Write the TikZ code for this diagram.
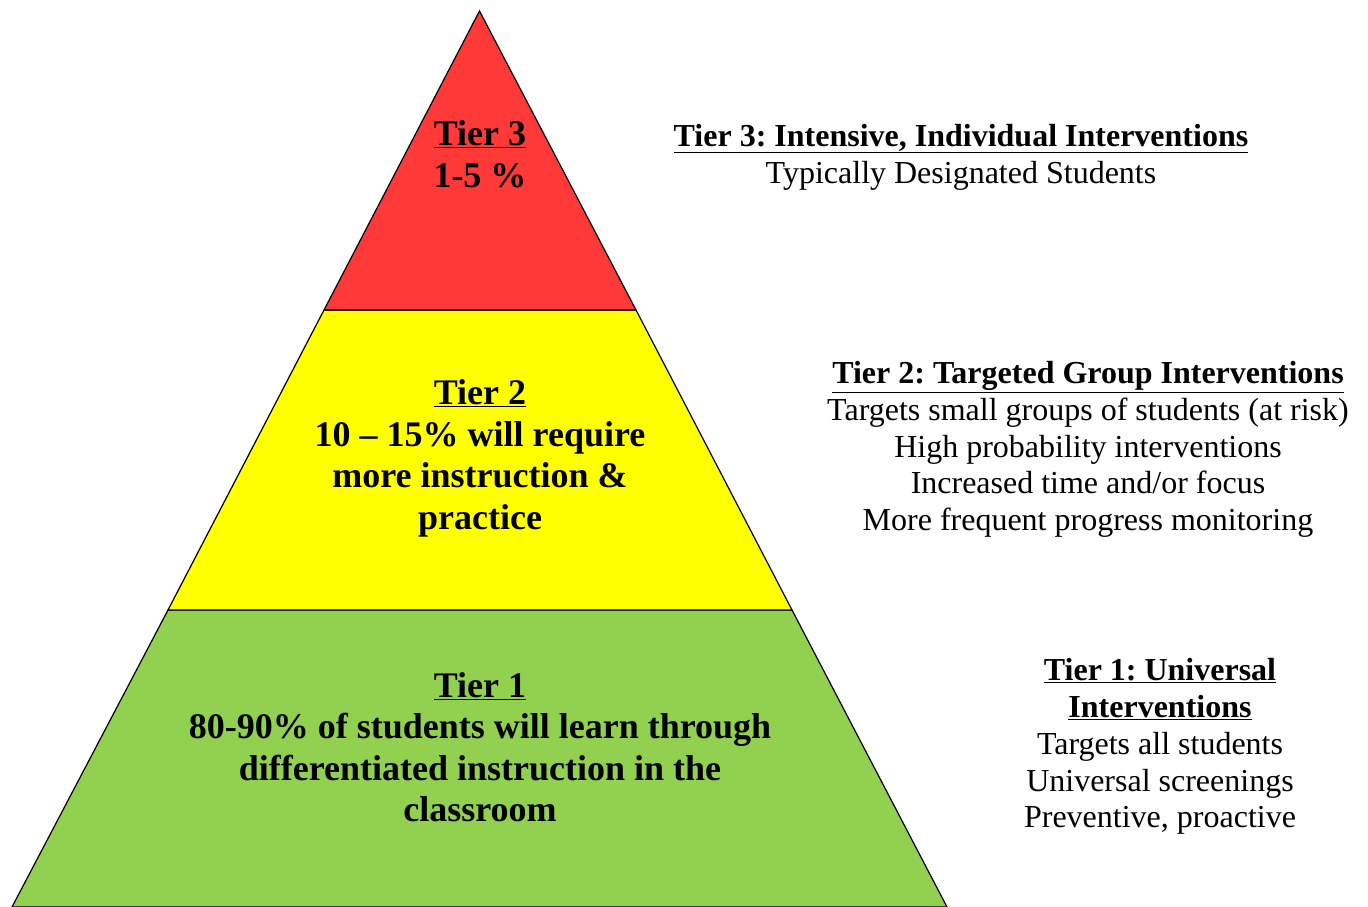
\documentclass[tikz,border=0pt]{standalone}
\usepackage{fontspec}
\setmainfont{Liberation Serif}
\frenchspacing
\definecolor{tierred}{RGB}{255,56,56}
\definecolor{tieryellow}{RGB}{255,255,0}
\definecolor{tiergreen}{RGB}{146,208,80}
\begin{document}
\begin{tikzpicture}[x=1pt,y=-1pt,
  tier/.style={draw=black,line width=1.2pt,line join=miter},
  ptext/.style={align=center,font=\fontsize{36}{41.5}\selectfont\bfseries,inner sep=0pt},
  rtext/.style={align=center,font=\fontsize{32}{36.8}\selectfont,inner sep=0pt}]
\useasboundingbox (0,0) rectangle (1368,907);
\coordinate (apex) at (479.5,11);
\coordinate (l2) at (324,310);
\coordinate (r2) at (636,310);
\coordinate (l1) at (168,610);
\coordinate (r1) at (792,610);
\coordinate (l0) at (12,907);
\coordinate (r0) at (947,907);
\path[tier,fill=tiergreen] (l1) -- (r1) -- (r0) -- (l0) -- cycle;
\path[tier,fill=tieryellow] (l2) -- (r2) -- (r1) -- (l1) -- cycle;
\path[tier,fill=tierred] (apex) -- (r2) -- (l2) -- cycle;
\node[ptext] (t3) at (480,154) {\underline{Tier 3}\\1-5 \%};
\node[ptext] (t2) at (480,458.5) {\underline{Tier 2}\\10 -- 15\% will require\\more instruction \&\\practice};
\node[ptext] (t1) at (480,747) {\underline{Tier 1}\\80-90\% of students will learn through\\differentiated instruction in the\\classroom};
\node[rtext] (d3) at (961,157) {\textbf{\underline{Tier 3: Intensive, Individual Interventions}}\\Typically Designated Students};
\node[rtext] (d2) at (1088,449.5) {\textbf{\underline{Tier 2: Targeted Group Interventions}}\\Targets small groups of students (at risk)\\High probability interventions\\Increased time and/or focus\\More frequent progress monitoring};
\node[rtext] (d1) at (1160,746.5) {\textbf{\underline{Tier 1: Universal}}\\\textbf{\underline{Interventions}}\\Targets all students\\Universal screenings\\Preventive, proactive};
\end{tikzpicture}
\end{document}
